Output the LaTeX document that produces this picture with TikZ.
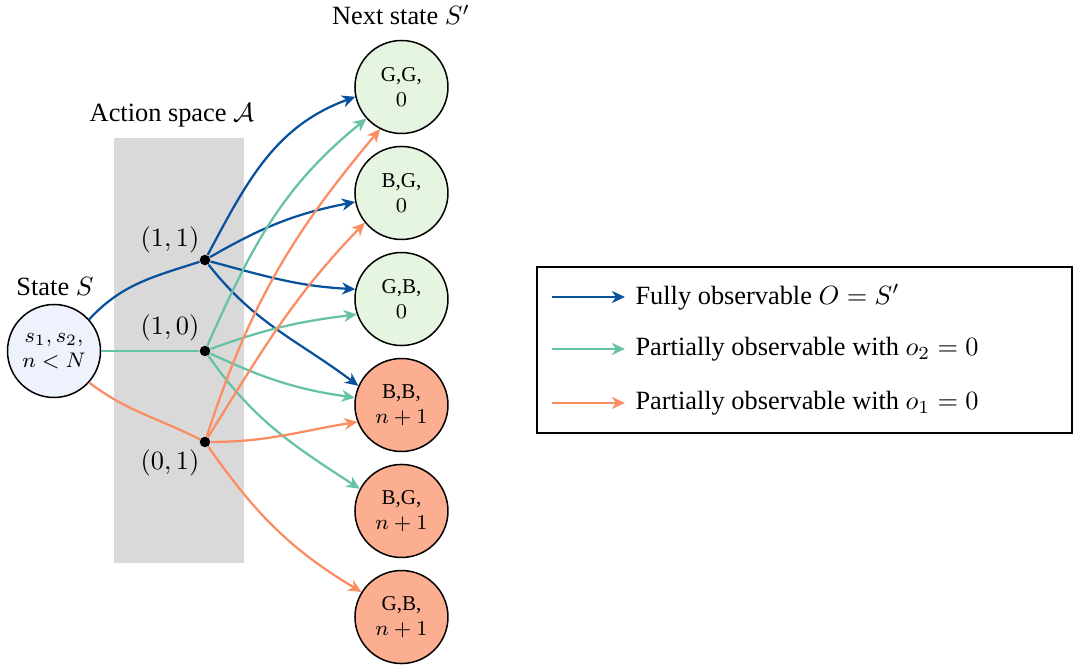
\documentclass[tikz,border=0pt]{standalone}
\usepackage{fontspec}
\setmainfont{Liberation Serif}
\usetikzlibrary{arrows.meta}

\definecolor{fullblue}{HTML}{08519C}
\definecolor{partgreen}{HTML}{66C2A5}
\definecolor{partorange}{HTML}{FC8D62}
\definecolor{goodfill}{HTML}{E5F5E0}
\definecolor{badfill}{HTML}{FCAE91}
\definecolor{statefill}{HTML}{EEF2FC}
\definecolor{actiongray}{HTML}{D9D9D9}

\tikzset{
  statenode/.style={circle, draw, line width=0.02cm, minimum size=1.24cm, inner sep=0pt, align=center, font=\footnotesize},
  actdot/.style={circle, fill=black, inner sep=0pt, minimum size=0.14cm},
  link/.style={line width=0.03cm},
  trans/.style={line width=0.03cm, -{Stealth[length=5pt,width=4.6pt,inset=1.6pt]}},
}

\begin{document}
\begin{tikzpicture}
                \useasboundingbox (0,0) rectangle (14.320,8.920);
                {\normalsize

                % Drawing action space
                \fill [actiongray] (1.520,1.413) rectangle (3.253,7.080);%
                \node (actlabel) at (2.293,7.387) {Action space $\mathcal{A}$};%

                % Marking state S
                \node [statenode, fill=statefill] (st) at (0.720,4.240) {$s_1,s_2,$\\$n<N$};%
                \node (stlabel) at (0.733,5.093) {State $S$};%

                % Marking actions
                \node [actdot] (a11) at (2.733,5.453) {};%
                \node [actdot] (a10) at (2.733,4.240) {};%
                \node [actdot] (a01) at (2.733,3.027) {};%
                \node (l11) at (2.267,5.720) {$(1,1)$};%
                \node (l10) at (2.267,4.547) {$(1,0)$};%
                \node (l01) at (2.267,2.747) {$(0,1)$};%

                % Marking next states
                \node [statenode, fill=goodfill] (gg) at (5.353,7.760) {G,G,\\$0$};%
                \node [statenode, fill=goodfill] (bg) at (5.353,6.347) {B,G,\\$0$};%
                \node [statenode, fill=goodfill] (gb) at (5.353,4.933) {G,B,\\$0$};%
                \node [statenode, fill=badfill] (bb) at (5.353,3.520) {B,B,\\$n+1$};%
                \node [statenode, fill=badfill] (bgn) at (5.353,2.107) {B,G,\\$n+1$};%
                \node [statenode, fill=badfill] (gbn) at (5.353,0.693) {G,B,\\$n+1$};%
                \node (nextlabel) at (5.347,8.720) {Next state $S'$};%

                % Drawing state to actions
                \draw [link, fullblue] (st.42) to[out=47,in=198] (a11);%
                \draw [link, partgreen] (st) -- (a10);%
                \draw [link, partorange] (st.-42) to[out=-37,in=153] (a01);%

                % Drawing action (1,1)
                \draw [trans, fullblue] (a11) to[out=62,in=200] (gg.192);%
                \draw [trans, fullblue] (a11) to[out=30,in=191] (bg.191);%
                \draw [trans, fullblue] (a11) to[out=-15,in=177] (gb.168);%
                \draw [trans, fullblue] (a11) to[out=-52,in=143] (bb.156);%

                % Drawing action (1,0)
                \draw [trans, partgreen] (a10) to[out=66,in=219] (gg.222);%
                \draw [trans, partgreen] (a10) to[out=20,in=187] (gb.199);%
                \draw [trans, partgreen] (a10) to[out=-25,in=172] (bb.171);%
                \draw [trans, partgreen] (a10) to[out=-55,in=147] (bgn.152);%

                % Drawing action (0,1)
                \draw [trans, partorange] (a01) to[out=72,in=230] (gg.243);%
                \draw [trans, partorange] (a01) to[out=58,in=226] (bg.219);%
                \draw [trans, partorange] (a01) to[out=0,in=189] (bb.201);%
                \draw [trans, partorange] (a01) to[out=-55,in=149] (gbn.148);%

                % Drawing legend
                \node [draw, line width=0.02cm, minimum width=7.133cm, minimum height=2.213cm, inner sep=0pt] (legend) at (10.727,4.253) {};%
                \coordinate (lb1) at (7.360,4.960);%
                \coordinate (lb2) at (8.333,4.960);%
                \coordinate (lg1) at (7.360,4.267);%
                \coordinate (lg2) at (8.333,4.267);%
                \coordinate (lo1) at (7.360,3.547);%
                \coordinate (lo2) at (8.333,3.547);%
                \draw [trans, fullblue] (lb1) -- (lb2);%
                \draw [trans, partgreen] (lg1) -- (lg2);%
                \draw [trans, partorange] (lo1) -- (lo2);%
                \node [anchor=west] (lbt) at (8.350,4.960) {Fully observable $O=S'$};%
                \node [anchor=west] (lgt) at (8.350,4.267) {Partially observable with $o_2=0$};%
                \node [anchor=west] (lot) at (8.350,3.547) {Partially observable with $o_1=0$};%
                }
            \end{tikzpicture}
\end{document}
